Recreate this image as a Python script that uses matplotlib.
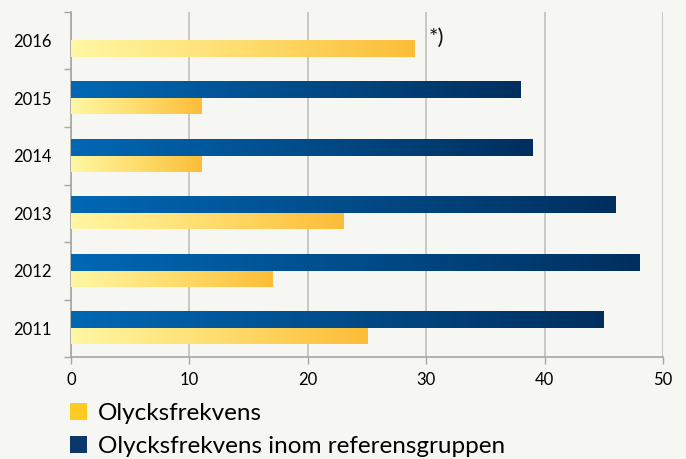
import numpy as np
import matplotlib
matplotlib.use("Agg")
import matplotlib.pyplot as plt
from matplotlib.colors import LinearSegmentedColormap
from matplotlib.patches import Patch

# Data
years = ["2011", "2012", "2013", "2014", "2015", "2016"]
olycksfrekvens = [25, 17, 23, 11, 11, 29]
referensgrupp = [45, 48, 46, 39, 38, None]
x_ticks = [0, 10, 20, 30, 40, 50]

plt.rcParams["font.family"] = ["Lato", "DejaVu Sans"]

bg = "#f6f6f2"
yellow_cmap = LinearSegmentedColormap.from_list("yel", ["#fff7a3", "#ffdd6e", "#fcbd38"])
blue_cmap = LinearSegmentedColormap.from_list("blu", ["#0068b4", "#004c8a", "#002f5e"])

fig = plt.figure(figsize=(6.86, 4.59), dpi=100, facecolor=bg)
ax = fig.add_axes([0.1035, 0.222, 0.863, 0.752], facecolor=bg)

bar_h = 0.28
grad = np.linspace(0, 1, 256).reshape(1, -1)


def grad_bar(val, y0, cmap):
    """Draw one horizontal bar with a left-to-right gradient"""
    ax.imshow(grad, extent=[0, val, y0, y0 + bar_h], aspect="auto",
              cmap=cmap, origin="lower", zorder=3, interpolation="bicubic")


for i, (a, b) in enumerate(zip(olycksfrekvens, referensgrupp)):
    grad_bar(a, i - bar_h, yellow_cmap)
    if b is not None:
        grad_bar(b, i, blue_cmap)

ax.text(30.2, 5.05, "*)", fontsize=16, ha="left", va="center", color="#111111")

# Axes formatting
ax.set_xlim(0, 50)
ax.set_ylim(-0.5, 5.5)
ax.set_xticks(x_ticks)
ax.set_yticks(range(len(years)))
ax.set_yticklabels(years)
ax.set_yticks(np.arange(-0.5, 5.6, 1), minor=True)
ax.tick_params(axis="y", which="major", length=0, pad=14, labelsize=12)
ax.tick_params(axis="y", which="minor", length=5, color="#a6a6a6", width=1)
ax.tick_params(axis="x", length=5, color="#a6a6a6", width=1, labelsize=12, pad=6)
ax.grid(axis="x", color="#c0c0c0", linewidth=1.2, zorder=0)
ax.set_axisbelow(True)
for side in ["top", "right"]:
    ax.spines[side].set_visible(False)
for side in ["left", "bottom"]:
    ax.spines[side].set_color("#a6a6a6")
    ax.spines[side].set_linewidth(1.2)

handles = [Patch(facecolor="#fecb22", label="Olycksfrekvens"),
           Patch(facecolor="#0d3768", label="Olycksfrekvens inom referensgruppen")]
fig.legend(handles=handles, loc="upper left", bbox_to_anchor=(0.102, 0.122),
           frameon=False, fontsize=17.5, handlelength=0.7, handleheight=0.7,
           handletextpad=0.45, labelspacing=0.5, borderaxespad=0, borderpad=0)

fig.savefig("out.png", dpi=100, facecolor=bg)
